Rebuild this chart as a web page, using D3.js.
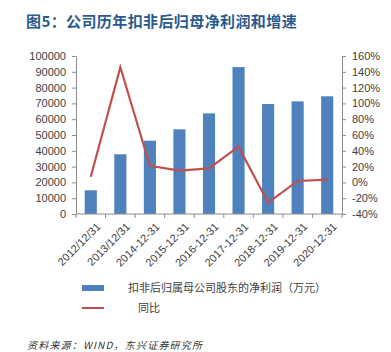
<!DOCTYPE html>
<html>
<head>
<meta charset="utf-8">
<script src="https://cdn.jsdelivr.net/npm/d3@7"></script>
<style>
  body { margin: 0; background: #fff; }
  svg { display: block; font-family: "Noto Sans CJK SC", "Liberation Sans", sans-serif; }
</style>
</head>
<body>
<svg></svg>
<script>
const width = 391;
const height = 352;

const dates = ['2012/12/31', '2013/12/31', '2014-12-31', '2015-12-31', '2016-12-31',
  '2017-12-31', '2018-12-31', '2019-12-31', '2020-12-31'];
const profit = [15000, 37800, 46400, 53600, 63700, 93000, 69600, 71300, 74500];
const growth = [7.2, 145.7, 21.1, 14.9, 17.8, 45.2, -25.7, 1.8, 3.4];
const leftTicks = d3.range(0, 100001, 10000);
const rightTicks = d3.range(-40, 161, 20);

const margin = { top: 56, right: 49, bottom: 138, left: 76 };

const svg = d3.select('svg')
  .attr('width', width)
  .attr('height', height);

svg.append('text')
  .attr('x', 26)
  .attr('y', 27)
  .attr('fill', '#2a5a8c')
  .attr('font-size', 15)
  .attr('font-weight', 'bold')
  .attr('letter-spacing', 0.4)
  .text('图5：公司历年扣非后归母净利润和增速');

const xScale = d3.scaleBand()
  .domain(dates)
  .range([margin.left, width - margin.right]);

const yScale = d3.scaleLinear()
  .domain([0, 100000])
  .range([height - margin.bottom, margin.top]);

const y2Scale = d3.scaleLinear()
  .domain([-40, 160])
  .range([height - margin.bottom, margin.top]);

const axisColor = '#8c8c8c';
const textColor = '#404040';

// bars
const barW = xScale.bandwidth() * 0.41;
svg.append('g')
  .selectAll('rect')
  .data(profit)
  .enter()
  .append('rect')
  .attr('x', (d, i) => xScale(dates[i]) + xScale.bandwidth() / 2 - barW / 2)
  .attr('y', d => yScale(d))
  .attr('width', barW)
  .attr('height', d => yScale(0) - yScale(d))
  .attr('fill', '#4f81bd');

// line
const line = d3.line()
  .x((d, i) => xScale(dates[i]) + xScale.bandwidth() / 2)
  .y(d => y2Scale(d));

svg.append('path')
  .datum(growth)
  .attr('d', line)
  .attr('fill', 'none')
  .attr('stroke', '#c0504d')
  .attr('stroke-width', 2.2)
  .attr('stroke-linejoin', 'miter');

const styleAxis = (g) => {
  g.select('.domain').attr('stroke', axisColor);
  g.selectAll('.tick line').attr('stroke', axisColor);
  g.selectAll('.tick text')
    .attr('fill', textColor)
    .attr('font-size', 11)
    .attr('font-family', '"Liberation Sans", sans-serif');
};

svg.append('g')
  .attr('transform', `translate(${margin.left},0)`)
  .call(d3.axisLeft(yScale).tickValues(leftTicks).tickSize(4).tickSizeOuter(0).tickPadding(6)
    .tickFormat(d3.format('d')))
  .call(styleAxis);

svg.append('g')
  .attr('transform', `translate(${width - margin.right},0)`)
  .call(d3.axisRight(y2Scale).tickValues(rightTicks).tickSize(4).tickSizeOuter(0).tickPadding(6)
    .tickFormat(d => d + '%'))
  .call(styleAxis);

// x axis: ticks at band boundaries
const xg = svg.append('g')
  .attr('transform', `translate(0,${height - margin.bottom})`);
xg.append('line')
  .attr('x1', margin.left)
  .attr('x2', width - margin.right)
  .attr('stroke', axisColor);
xg.selectAll('line.tk')
  .data(dates.concat(['end']))
  .enter()
  .append('line')
  .attr('class', 'tk')
  .attr('x1', (d, i) => i < dates.length ? xScale(d) : xScale.range()[1])
  .attr('x2', (d, i) => i < dates.length ? xScale(d) : xScale.range()[1])
  .attr('y2', 4)
  .attr('stroke', axisColor);
xg.selectAll('text')
  .data(dates)
  .enter()
  .append('text')
  .attr('transform', d => `translate(${xScale(d) + xScale.bandwidth() / 2 + 5},8) rotate(-45)`)
  .attr('text-anchor', 'end')
  .attr('dy', '0.7em')
  .attr('fill', textColor)
  .attr('font-size', 11)
  .attr('font-family', '"Liberation Sans", sans-serif')
  .text(d => d);

// legend
const lg = svg.append('g');
lg.append('rect')
  .attr('x', 82).attr('y', 285)
  .attr('width', 22).attr('height', 6)
  .attr('fill', '#4f81bd');
lg.append('text')
  .attr('x', 128).attr('y', 292)
  .attr('font-size', 11).attr('fill', textColor)
  .text('扣非后归属母公司股东的净利润（万元）');
lg.append('line')
  .attr('x1', 82).attr('x2', 104)
  .attr('y1', 308).attr('y2', 308)
  .attr('stroke', '#c0504d').attr('stroke-width', 2);
lg.append('text')
  .attr('x', 138).attr('y', 312)
  .attr('font-size', 11).attr('fill', textColor)
  .text('同比');

svg.append('text')
  .attr('x', 27).attr('y', 349)
  .attr('font-size', 10)
  .attr('font-style', 'italic')
  .attr('letter-spacing', 1.2)
  .attr('fill', '#333')
  .text('资料来源：WIND，东兴证券研究所');
</script>
</body>
</html>
